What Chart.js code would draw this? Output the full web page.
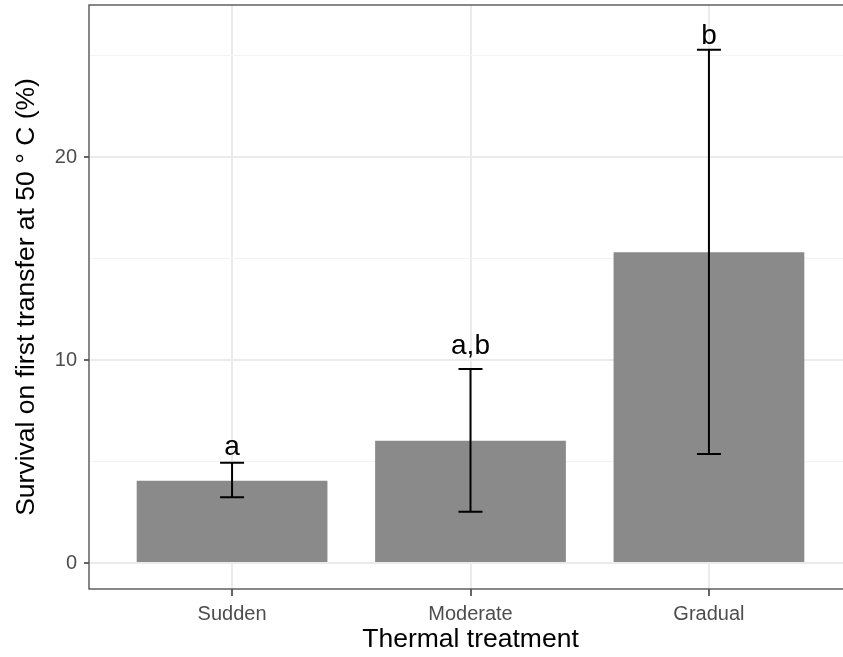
<!DOCTYPE html>
<html>
<head>
<meta charset="utf-8">
<script src="https://cdn.jsdelivr.net/npm/chart.js@4/dist/chart.umd.min.js"></script>
<style>
html,body{margin:0;padding:0;background:#fff;overflow:hidden;}
canvas{display:block;}
</style>
</head>
<body>
<canvas id="c" width="860" height="657"></canvas>
<script>
// ---- data ----
const categories = ["Sudden", "Moderate", "Gradual"];
const survival = [4.05, 6.02, 15.32];
const errLow = [3.24, 2.53, 5.37];
const errHigh = [4.94, 9.56, 25.29];
const letters = ["a", "a,b", "b"];
const letterY = [5.3, 10.3, 25.6];
const yTickValues = [0, 5, 10, 15, 20, 25];
const yLabelValues = [0, 10, 20];

const FONT = "'Liberation Sans', Arial, sans-serif";

const errorPlugin = {
  id: 'errs',
  afterDatasetsDraw(chart) {
    const ctx = chart.ctx, xs = chart.scales.x, ys = chart.scales.y;
    ctx.save();
    ctx.strokeStyle = '#000';
    ctx.lineWidth = 2;
    for (let i = 0; i < categories.length; i++) {
      const x = xs.getPixelForValue(i);
      const lo = ys.getPixelForValue(errLow[i]);
      const hi = ys.getPixelForValue(errHigh[i]);
      ctx.beginPath();
      ctx.moveTo(x, lo); ctx.lineTo(x, hi);
      ctx.moveTo(x - 12, lo); ctx.lineTo(x + 12, lo);
      ctx.moveTo(x - 12, hi); ctx.lineTo(x + 12, hi);
      ctx.stroke();
      ctx.fillStyle = '#000';
      ctx.font = '28px ' + FONT;
      ctx.textAlign = 'center';
      ctx.textBaseline = 'alphabetic';
      ctx.fillText(letters[i], x, ys.getPixelForValue(letterY[i]));
    }
    ctx.restore();
  },
  afterDraw(chart) {
    const a = chart.chartArea, ctx = chart.ctx;
    ctx.save();
    ctx.strokeStyle = '#555';
    ctx.lineWidth = 1.4;
    ctx.strokeRect(a.left, a.top, a.right - a.left, a.bottom - a.top);
    ctx.restore();
  }
};

new Chart(document.getElementById('c'), {
  type: 'bar',
  data: {
    datasets: [{
      data: survival.map((v, i) => ({x: i, y: v})),
      backgroundColor: '#8A8A8A',
      borderWidth: 0,
      barPercentage: 0.8,
      categoryPercentage: 1.0
    }]
  },
  plugins: [errorPlugin],
  options: {
    responsive: false,
    animation: false,
    events: [],
    layout: {padding: {top: 5, right: 8, left: 0, bottom: 0}},
    plugins: {legend: {display: false}, tooltip: {enabled: false}},
    scales: {
      x: {
        type: 'linear',
        offset: false,
        min: -0.6,
        max: 2.6,
        afterBuildTicks(s) { s.ticks = categories.map((c, i) => ({value: i})); },
        afterFit(s) { s.height = 68; s.paddingLeft = 0; s.paddingRight = 0; },
        border: {display: false},
        grid: {
          offset: false,
          color: '#EBEBEB',
          lineWidth: 2,
          tickLength: 7,
          tickColor: '#333',
          tickWidth: 1.5
        },
        ticks: {
          color: '#4D4D4D',
          font: {family: FONT, size: 20},
          padding: 6,
          maxRotation: 0,
          callback: (v) => categories[v]
        },
        title: {
          display: true,
          text: 'Thermal treatment',
          color: '#000',
          font: {family: FONT, size: 26.5},
          padding: {top: 0, bottom: 1}
        }
      },
      y: {
        min: -1.28,
        max: 27.5,
        afterBuildTicks(s) { s.ticks = yTickValues.map(v => ({value: v})); },
        afterFit(s) { s.width = 89; s.paddingTop = 0; s.paddingBottom = 0; },
        border: {display: false},
        grid: {
          color: (c) => (yLabelValues.includes(c.tick && c.tick.value) ? '#EBEBEB' : '#F4F4F4'),
          lineWidth: (c) => (yLabelValues.includes(c.tick && c.tick.value) ? 2 : 1),
          tickLength: 5,
          tickColor: (c) => (yLabelValues.includes(c.tick && c.tick.value) ? '#333' : 'rgba(0,0,0,0)'),
          tickWidth: 1.5
        },
        ticks: {
          color: '#4D4D4D',
          font: {family: FONT, size: 20},
          padding: 7,
          callback: (v) => (yLabelValues.includes(v) ? String(v) : '')
        },
        title: {
          display: true,
          text: 'Survival on first transfer at 50 ° C (%)',
          color: '#000',
          font: {family: FONT, size: 26.5},
          padding: {top: 11, bottom: 0}
        }
      }
    }
  }
});
</script>
</body>
</html>
